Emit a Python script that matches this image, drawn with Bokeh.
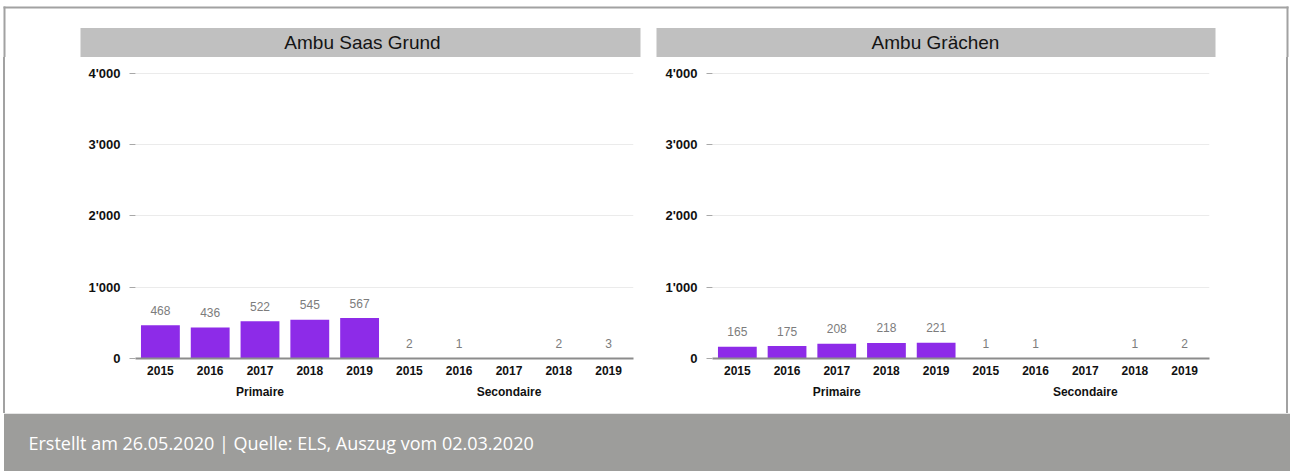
from bokeh.plotting import figure
from bokeh.layouts import column, row
from bokeh.models import FactorRange, Range1d, FixedTicker, ColumnDataSource, Div
from bokeh.core.properties import value
from bokeh.embed import file_html
from bokeh.resources import INLINE

# ---------------- data ----------------
groups = ["Primaire", "Secondaire"]
years = ["2015", "2016", "2017", "2018", "2019"]
panel_titles = ["Ambu Saas Grund", "Ambu Grächen"]
saas_primaire = [468, 436, 522, 545, 567]
saas_secondaire = [2, 1, 0, 2, 3]
grachen_primaire = [165, 175, 208, 218, 221]
grachen_secondaire = [1, 1, 0, 1, 2]
y_ticks = [0, 1000, 2000, 3000, 4000]
y_tick_labels = ["0", "1'000", "2'000", "3'000", "4'000"]
footer_text = "Erstellt am 26.05.2020 | Quelle: ELS, Auszug vom 02.03.2020"

# ---------------- style ----------------
BAR = "#8d2be8"
BORDER = "#a2a2a2"
TITLE_BG = "#c0c0c0"
FOOT_BG = "#9d9d9b"
AXFONT = "Liberation Sans"
Y_MAX = 4221
PANEL_H = 356


def deco_fig(w, h):
    f = figure(width=w, height=h, x_range=Range1d(0, w), y_range=Range1d(h, 0),
               x_axis_type=None, y_axis_type=None, min_border=0,
               toolbar_location=None, output_backend="svg",
               outline_line_color=None, background_fill_color="white",
               border_fill_color="white")
    return f


def make_panel(prim, sec, left, right):
    factors = [(g, y) for g in groups for y in years]
    vals = list(prim) + list(sec)
    src = ColumnDataSource(dict(x=factors, top=vals))
    keep = [i for i, v in enumerate(vals) if v > 0]
    lab = ColumnDataSource(dict(x=[factors[i] for i in keep],
                                y=[vals[i] for i in keep],
                                t=[str(vals[i]) for i in keep]))
    p = figure(width=637, height=PANEL_H,
               x_range=FactorRange(*factors, factor_padding=0, group_padding=0,
                                   subgroup_padding=0, range_padding=0),
               y_range=Range1d(0, Y_MAX),
               output_backend="svg", toolbar_location=None,
               min_border_left=left, min_border_right=right,
               min_border_top=0, min_border_bottom=55,
               outline_line_color=None)
    p.vbar(x="x", top="top", width=0.78, source=src, fill_color=BAR, line_color=None)
    p.text(x="x", y="y", text="t", source=lab, text_align="center",
           text_baseline="middle", y_offset=-15, text_font=value(AXFONT),
           text_font_size="12px", text_color="#7c7c7c")

    p.xgrid.visible = False
    p.ygrid.grid_line_color = "#ebebeb"
    p.ygrid.ticker = FixedTicker(ticks=y_ticks)

    ya = p.yaxis[0]
    ya.ticker = FixedTicker(ticks=y_ticks)
    ya.major_label_overrides = {t: l for t, l in zip(y_ticks, y_tick_labels)}
    ya.axis_line_color = None
    ya.major_tick_line_color = "#a8a8a8"
    ya.major_tick_out = 6
    ya.major_tick_in = 0
    ya.minor_tick_line_color = None
    ya.major_label_standoff = 9
    ya.major_label_text_font = AXFONT
    ya.major_label_text_font_style = "bold"
    ya.major_label_text_font_size = "13px"
    ya.major_label_text_color = "#111111"

    xa = p.xaxis[0]
    xa.axis_line_color = "#8c8c8c"
    xa.axis_line_width = 2
    xa.major_tick_line_color = None
    xa.major_tick_out = 0
    xa.major_tick_in = 0
    xa.minor_tick_line_color = None
    xa.major_label_standoff = 7
    xa.major_label_text_font = AXFONT
    xa.major_label_text_font_style = "bold"
    xa.major_label_text_font_size = "12px"
    xa.major_label_text_color = "#111111"
    xa.group_text_font = AXFONT
    xa.group_text_font_style = "bold"
    xa.group_text_font_size = "12px"
    xa.group_text_color = "#111111"
    xa.separator_line_alpha = 0
    return p


p1 = make_panel(saas_primaire, saas_secondaire, 127, 12)
p2 = make_panel(grachen_primaire, grachen_secondaire, 67, 73)

# header: top border + title bars
H = deco_fig(1290, 57)
H.quad(left=[3, 3, 1286], right=[1288, 5, 1288], top=[6, 6, 6], bottom=[8, 57, 57],
       fill_color=BORDER, line_color=None)
H.quad(left=[80, 656], right=[640, 1215], top=[27.5, 27.5], bottom=[56.5, 56.5],
       fill_color=TITLE_BG, line_color=None)
H.text(x=[362, 935], y=[42, 42], text=panel_titles, text_align="center",
       text_baseline="middle", text_font=value(AXFONT), text_font_size="19px",
       text_color="#141414")


def strip(w, h, color):
    return Div(text="", width=w, height=h, margin=0,
               styles={"background-color": color, "padding": "0"})


# side border strips (plain boxes, not plots, so no frame alignment)
left_border = row(strip(3, PANEL_H, "white"), strip(2, PANEL_H, BORDER),
                  strip(3, PANEL_H, "white"), spacing=0)
right_border = row(strip(4, PANEL_H, "white"), strip(2, PANEL_H, BORDER),
                   strip(2, PANEL_H, "white"), spacing=0)

# footer band
F = deco_fig(1290, 58)
F.quad(left=[3.5], right=[1290], top=[0], bottom=[58], fill_color=FOOT_BG, line_color=None)
F.text(x=[28], y=[29], text=[footer_text], text_align="left", text_baseline="middle",
       text_font=value("Open Sans"), text_font_size="18px", text_color="#ffffff")

root = column(H, row(left_border, p1, p2, right_border, spacing=0), F, spacing=0)

open("out.html", "w").write(file_html(root, INLINE))
